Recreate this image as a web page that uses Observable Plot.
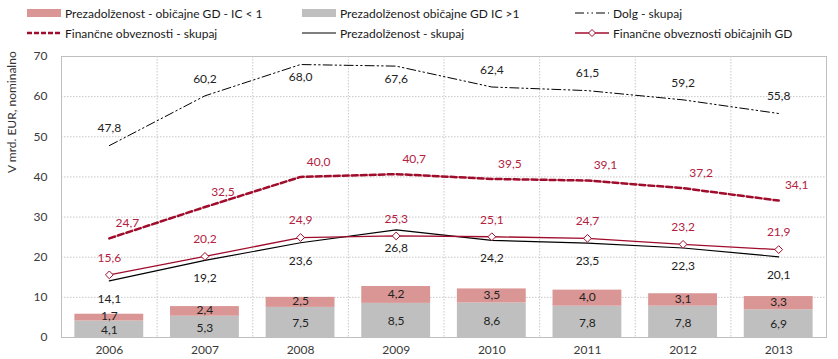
<!DOCTYPE html>
<html><head><meta charset="utf-8">
<script src="https://cdn.jsdelivr.net/npm/d3@7"></script>
<script src="https://cdn.jsdelivr.net/npm/@observablehq/plot@0.6"></script>
<style>
body{margin:0;background:#fff;font-family:Lato, "Open Sans", sans-serif;}
#wrap{width:838px;height:359px;position:relative;overflow:hidden}
#legend{position:relative;height:45px;width:838px;font-size:12px;color:#1a1a1a}
.item{position:absolute;display:flex;align-items:center;white-space:nowrap;height:14px}
.item svg{margin-right:4px;flex:none}
</style></head><body>
<div id="wrap"><div id="legend"></div><div id="chart"></div></div>
<script>
// ---- data ----
const years = [2006, 2007, 2008, 2009, 2010, 2011, 2012, 2013];
const prezIcLess1 = [1.7, 2.4, 2.5, 4.2, 3.5, 4.0, 3.1, 3.3];      // Prezadolženost - običajne GD - IC < 1
const prezIcMore1 = [4.1, 5.3, 7.5, 8.5, 8.6, 7.8, 7.8, 6.9];      // Prezadolženost običajne GD IC > 1
const dolgSkupaj = [47.8, 60.2, 68.0, 67.6, 62.4, 61.5, 59.2, 55.8];
const finSkupaj = [24.7, 32.5, 40.0, 40.7, 39.5, 39.1, 37.2, 34.1];
const prezSkupaj = [14.1, 19.2, 23.6, 26.8, 24.2, 23.5, 22.3, 20.1];
const finObicajnihGD = [15.6, 20.2, 24.9, 25.3, 25.1, 24.7, 23.2, 21.9];
const yTicks = [0, 10, 20, 30, 40, 50, 60, 70];
const seriesNames = [
  "Prezadolženost - običajne GD - IC < 1",
  "Prezadolženost običajne GD IC >1",
  "Dolg - skupaj",
  "Finančne obveznosti - skupaj",
  "Prezadolženost - skupaj",
  "Finančne obveznosti običajnih GD"
];
const yTitle = "V mrd. EUR, nominalno";

// ---- styling ----
const RED = "#a00c2c";
const RED_TEXT = "#b3213f";
const PINK = "#d99694";
const GRAY = "#bfbfbf";
const GRID = "#c8c8c8";
const fmt = v => v.toFixed(1).replace(".", ",");

const rows = years.map((year, i) => ({
  year,
  gray: prezIcMore1[i],
  pink: prezIcLess1[i],
  dolg: dolgSkupaj[i],
  fin: finSkupaj[i],
  prez: prezSkupaj[i],
  finGD: finObicajnihGD[i]
}));

// ---- legend ----
const swatches = [
  `<svg width="34" height="8"><rect x="0" y="0" width="34" height="8" fill="${PINK}"/></svg>`,
  `<svg width="34" height="8"><rect x="0" y="0" width="34" height="8" fill="${GRAY}"/></svg>`,
  `<svg width="34" height="8"><line x1="0" y1="4" x2="34" y2="4" stroke="#000" stroke-width="1" stroke-dasharray="9,3,1.5,3,1.5,3"/></svg>`,
  `<svg width="34" height="8"><line x1="0" y1="4" x2="34" y2="4" stroke="${RED}" stroke-width="2.5" stroke-dasharray="5,2"/></svg>`,
  `<svg width="34" height="8"><line x1="0" y1="4" x2="34" y2="4" stroke="#000" stroke-width="1.2"/></svg>`,
  `<svg width="34" height="10"><line x1="0" y1="5" x2="34" y2="5" stroke="${RED}" stroke-width="1.3"/><path d="M17,1.5L20.5,5L17,8.5L13.5,5Z" fill="#fff" stroke="${RED}" stroke-width="1"/></svg>`
];
const legendPos = [[27, 6], [302, 6], [575, 6], [27, 26], [302, 26], [575, 26]];
const legend = document.getElementById("legend");
seriesNames.forEach((name, i) => {
  const d = document.createElement("div");
  d.className = "item";
  d.style.left = legendPos[i][0] + "px";
  d.style.top = legendPos[i][1] + "px";
  d.innerHTML = swatches[i] + `<span>${name}</span>`;
  legend.appendChild(d);
});

// ---- chart ----
const bw = 0.36;
const chart = Plot.plot({
  width: 838,
  height: 314,
  marginLeft: 61,
  marginRight: 12,
  marginTop: 11,
  marginBottom: 22,
  style: {fontFamily: "Lato, 'Open Sans', sans-serif", fontSize: "12px", color: "#333", background: "#fff"},
  x: {type: "linear", domain: [years[0] - 0.5, years[years.length - 1] + 0.5]},
  y: {domain: [yTicks[0], yTicks[yTicks.length - 1]]},
  marks: [
    Plot.gridY(yTicks.slice(1, -1), {stroke: GRID, strokeOpacity: 1, strokeDasharray: "1.5,1.5"}),
    Plot.gridX(years.slice(1).map(y => y - 0.5), {stroke: GRID, strokeOpacity: 1, strokeDasharray: "1.5,1.5"}),
    Plot.rectY(rows, {x1: d => d.year - bw, x2: d => d.year + bw, y1: 0, y2: "gray", fill: GRAY}),
    Plot.rectY(rows, {x1: d => d.year - bw, x2: d => d.year + bw, y1: "gray", y2: d => d.gray + d.pink, fill: PINK}),
    Plot.frame({stroke: "#bfbfbf"}),
    Plot.axisY(yTicks, {tickSize: 0, tickPadding: 14, label: null, fill: "#3a3a3a"}),
    Plot.text([yTitle], {frameAnchor: "left", rotate: -90, dx: -49, dy: -24, fill: "#333", fontSize: 12}),
    Plot.axisX(years, {tickSize: 0, tickPadding: 8, tickFormat: d => String(d), label: null, fill: "#3a3a3a"}),
    Plot.lineY(rows, {x: "year", y: "dolg", stroke: "#000", strokeWidth: 1, strokeDasharray: "9,3,1.5,3,1.5,3"}),
    Plot.lineY(rows, {x: "year", y: "fin", stroke: RED, strokeWidth: 2.5, strokeDasharray: "6,3"}),
    Plot.lineY(rows, {x: "year", y: "prez", stroke: "#000", strokeWidth: 1.2}),
    Plot.lineY(rows, {x: "year", y: "finGD", stroke: RED, strokeWidth: 1.3}),
    Plot.dot(rows, {x: "year", y: "finGD", symbol: "diamond2", r: 3.5, fill: "#fff", stroke: RED, strokeWidth: 1}),
    // labels
    Plot.text(rows.filter(d => d.dolg <= 65), {x: "year", y: "dolg", text: d => fmt(d.dolg), dy: -17, fill: "#222"}),
    Plot.text(rows.filter(d => d.dolg > 65), {x: "year", y: "dolg", text: d => fmt(d.dolg), dy: 13, fill: "#222"}),
    Plot.text(rows, {x: "year", y: "fin", text: d => fmt(d.fin), dx: 18, dy: -15, fill: RED_TEXT}),
    Plot.text(rows, {x: "year", y: "finGD", text: d => fmt(d.finGD), dy: -17, fill: RED_TEXT}),
    Plot.text(rows, {x: "year", y: "prez", text: d => fmt(d.prez), dy: 18, fill: "#222"}),
    Plot.text(rows, {x: "year", y: d => d.gray / 2, text: d => fmt(d.gray), dy: 1, fill: "#222"}),
    Plot.text(rows, {x: "year", y: d => d.gray + d.pink / 2, text: d => fmt(d.pink), dy: -1, fill: "#222"})
  ]
});
document.getElementById("chart").appendChild(chart);
</script>
</body></html>
